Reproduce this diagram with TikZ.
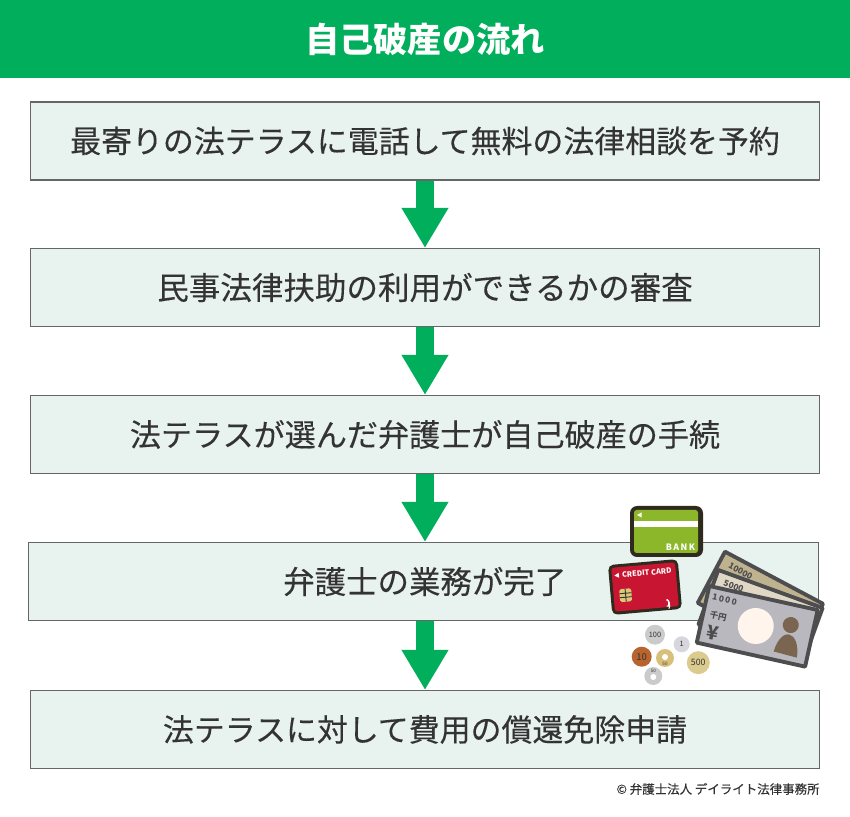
\documentclass[tikz,border=0pt]{standalone}
\usepackage{fontspec}
\setmainfont{Noto Sans CJK JP}
\newfontfamily\bodyfont[FakeBold=.2]{Noto Sans CJK JP}
\usetikzlibrary{arrows.meta}
\definecolor{mygreen}{HTML}{00AE5B}
\definecolor{boxfill}{HTML}{E8F2EF}
\definecolor{boxline}{HTML}{666666}
\definecolor{inkcol}{HTML}{333333}
\definecolor{notedark}{HTML}{4D4D4F}
\definecolor{personcol}{HTML}{7A6650}

\begin{document}
\begin{tikzpicture}
[x=.02cm,y=-.02cm,
    stepbox/.style={draw=boxline,fill=boxfill,line width=.6pt,minimum width=15.8cm,minimum height=1.56cm,
    text=inkcol,font=\bodyfont\fontsize{17.6}{20}\selectfont,inner sep=0pt},
    flow/.style={draw=mygreen,line width=.35cm,-{Triangle[width=.88cm,length=.8cm,fill=mygreen]}},
    banner/.style={fill=mygreen,text=white,minimum width=17cm,minimum height=1.56cm,inner sep=0pt,
    font=\fontsize{19.5}{22}\selectfont\bfseries},
    coin/.style={circle,minimum size=#1*.04cm,inner sep=0pt,text=inkcol,font=\fontsize{4.2}{5}\selectfont},
    note/.style={draw=notedark,line width=2.2pt,line join=round},
    notelab/.style={text=notedark,font=\fontsize{4.8}{5}\selectfont\bfseries}]
\useasboundingbox (0,0) rectangle (850,817);
%%%%%%%%%%
%% title
\node (title) [banner] at (425,39) {自己破産の流れ};
%% steps
\node (s1) [stepbox] at (425,141) {最寄りの法テラスに電話して無料の法律相談を予約};
\node (s2) [stepbox,font=\bodyfont\fontsize{17.95}{20}\selectfont] at (425,287.5) {民事法律扶助の利用ができるかの審査};
\node (s3) [stepbox,font=\bodyfont\fontsize{17.7}{20}\selectfont] at (425,434.5) {法テラスが選んだ弁護士が自己破産の手続};
\node (s4) [stepbox,font=\bodyfont\fontsize{17.9}{20}\selectfont] at (423.5,581.5) {\hspace{.05cm}弁護士の業務が完了};
\node (s5) [stepbox] at (425,729.5) {法テラスに対して費用の償還免除申請};
%% arrows
\draw[flow] (s1.south) -- (s2.north);
\draw[flow] (s2.south) -- (s3.north);
\draw[flow] (s3.south) -- (s3.south|-s4.north);
\draw[flow] (s3.south|-s4.south) -- (s5.north);
%% copyright
\node (copy) [anchor=east,text=inkcol,inner sep=0pt,font=\bodyfont\fontsize{7.1}{8}\selectfont] at (820,789) {© 弁護士法人 デイライト法律事務所};
%%
%% bank card
\begin{scope}[shift={(666.5,531.5)}]
\fill[fill={rgb,255:red,47;green,42;blue,30},rounded corners=4pt] (-36.5,-25.5) rectangle (36.5,25.5);
\fill[fill={rgb,255:red,141;green,183;blue,43},rounded corners=1.5pt] (-32.5,-21.5) rectangle (31.5,21.5);
\fill[white] (-32.5,-10.5) rectangle (31.5,-4.5);
\fill[white] (-29.5,-16.5) -- (-25,-19) -- (-25,-14) -- cycle;
\node (bank) [text=white,inner sep=0pt,font=\fontsize{5}{6}\selectfont\bfseries] at (14,15.5) {B\,A\,N\,K};
\end{scope}
%% credit card
\begin{scope}[shift={(645,587)},rotate=5,transform shape]
\fill[fill={rgb,255:red,47;green,42;blue,30},rounded corners=3pt] (-35,-25) rectangle (35,25);
\fill[fill={rgb,255:red,200;green,22;blue,50},rounded corners=1.5pt] (-32,-22) rectangle (32,22);
\fill[white] (-29.5,-14) -- (-25,-16.5) -- (-25,-11.5) -- cycle;
\node (credit) [text=white,inner sep=0pt,font=\fontsize{4.2}{5}\selectfont\bfseries] at (3,-14) {CREDIT CARD};
\fill[fill={rgb,255:red,222;green,200;blue,120},rounded corners=1pt] (-26,0) rectangle (-14,13);
\draw[inkcol,line width=.5pt] (-20,0) -- (-20,13) (-26,4.5) -- (-14,4.5) (-26,8.5) -- (-14,8.5);
\draw[white,line width=.6pt] (20,15) arc (-120:120:1.5 and 3.5) (22,15) arc (-60:60:2 and 5);
\end{scope}
%% notes
\begin{scope}[shift={(725,551.7)},rotate=-28,transform shape]
\filldraw[note,fill={rgb,255:red,191;green,179;blue,143}] (0,0) rectangle (111,58);
\node (n3) [notelab,inner sep=0pt] at (23,10) {10000};
\end{scope}
\begin{scope}[shift={(718.3,570)},rotate=-20,transform shape]
\filldraw[note,fill={rgb,255:red,224;green,216;blue,197}] (0,0) rectangle (111,58);
\node (n2) [notelab,inner sep=0pt] at (20,10) {5000};
\end{scope}
\begin{scope}[shift={(709.3,586)},rotate=-12.5,transform shape]
\filldraw[note,fill={rgb,255:red,184;green,184;blue,190}] (0,0) rectangle (111,58);
\node (n1) [notelab,inner sep=0pt] at (18,10) {1\,0\,0\,0};
\node (yen) [notelab,inner sep=0pt] at (15.5,28) {千円};
\node (ysign) [notelab,inner sep=0pt,font=\fontsize{11}{12}\selectfont\bfseries] at (13.5,45) {¥};
\fill[fill={rgb,255:red,255;green,245;blue,236}] (54,29) circle (18);
\fill[personcol] (88,20.5) circle (8);
\fill[personcol] (77,50) .. controls (78,36) and (84,30) .. (88,30) .. controls (94,30) and (100,37) .. (101,51) -- cycle;
\end{scope}
%% coins
\node (c100) [coin=10,fill={rgb,255:red,203;green,203;blue,203}] at (655,634.7) {100};
\node (c1) [coin=8,fill={rgb,255:red,214;green,214;blue,220}] at (681.7,644.3) {1};
\node (c10) [coin=10,fill={rgb,255:red,184;green,100;blue,46},font=\fontsize{5.4}{6}\selectfont] at (641.7,656.7) {10};
\node (c5) [coin=9,fill={rgb,255:red,217;green,192;blue,122}] at (665,658) {};
\fill[white] (c5) ++(0,-1) circle (3);
\node (c5lab) [text=inkcol,inner sep=0pt,font=\fontsize{2.6}{3}\selectfont] at (665,663.5) {50};
\node (c500) [coin=11.5,fill={rgb,255:red,220;green,203;blue,142},font=\fontsize{5}{6}\selectfont] at (698.3,662.7) {500};
\node (c50) [coin=9,fill={rgb,255:red,203;green,203;blue,203}] at (653.3,676) {};
\fill[white] (c50) ++(0,1) circle (3);
\node (c50lab) [text=inkcol,inner sep=0pt,font=\fontsize{2.6}{3}\selectfont] at (653.3,670.5) {50};
\end{tikzpicture}
\end{document}
